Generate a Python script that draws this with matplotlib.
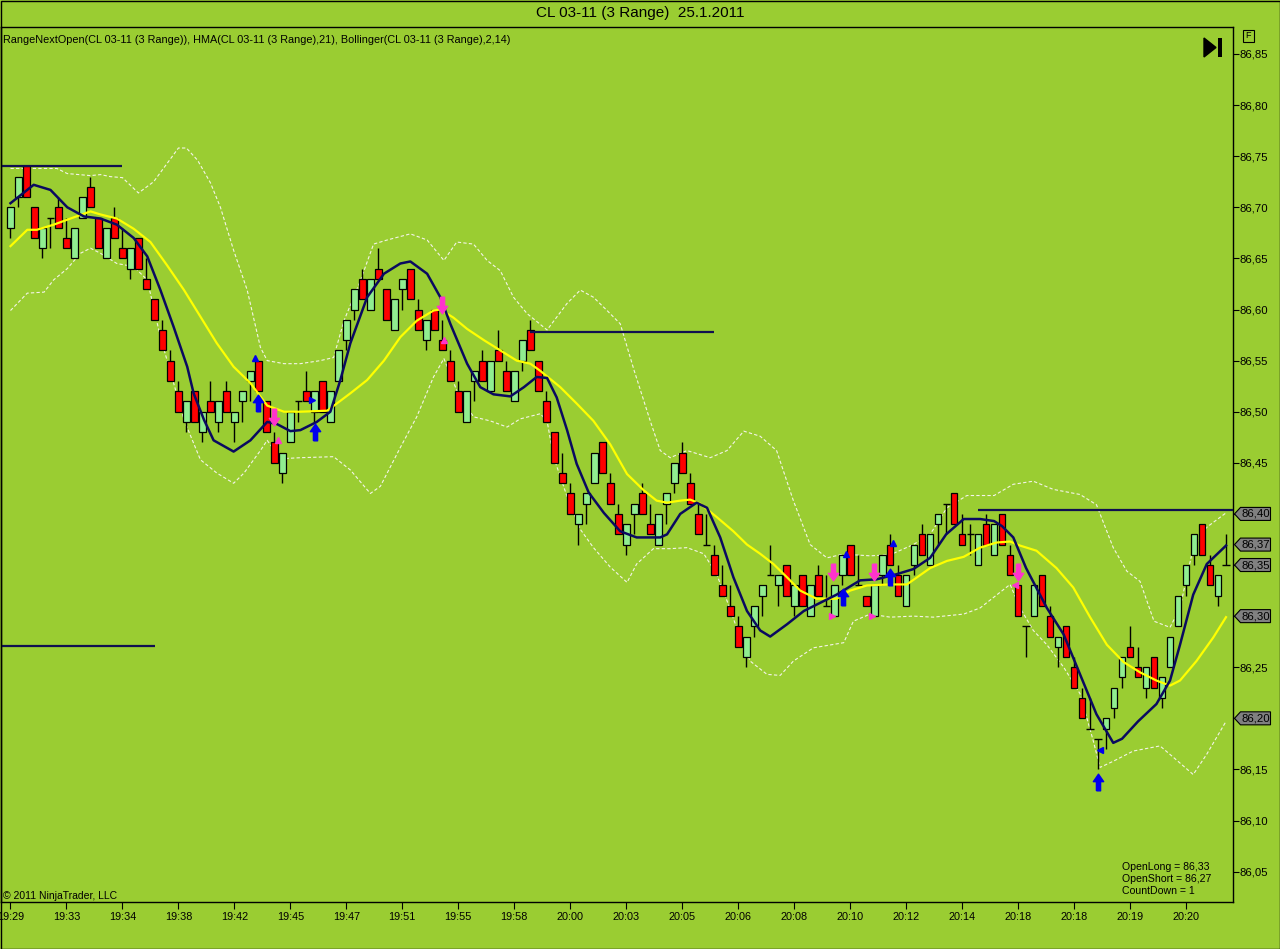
import matplotlib
matplotlib.use('Agg')
import numpy as np
import matplotlib.pyplot as plt
from matplotlib.patches import Polygon, Rectangle
from matplotlib.path import Path
import matplotlib.transforms as mtransforms

plt.rcParams['font.family'] = ['Liberation Sans', 'DejaVu Sans']

# 3-range bars (bar index 0..152)
opens = [86.68, 86.71, 86.74, 86.70, 86.66, 86.69, 86.70, 86.67, 86.65, 86.69,
         86.72, 86.69, 86.65, 86.69, 86.66, 86.64, 86.67, 86.63, 86.61, 86.58,
         86.55, 86.52, 86.49, 86.52, 86.48, 86.51, 86.49, 86.52, 86.49, 86.51,
         86.53, 86.55, 86.51, 86.47, 86.44, 86.47, 86.51, 86.52, 86.50, 86.53,
         86.49, 86.53, 86.57, 86.60, 86.63, 86.60, 86.64, 86.62, 86.58, 86.62,
         86.64, 86.60, 86.57, 86.60, 86.57, 86.55, 86.52, 86.49, 86.53, 86.55,
         86.52, 86.56, 86.54, 86.51, 86.55, 86.58, 86.55, 86.51, 86.48, 86.44,
         86.42, 86.39, 86.41, 86.43, 86.47, 86.43, 86.40, 86.37, 86.40, 86.42,
         86.39, 86.37, 86.41, 86.43, 86.46, 86.43, 86.40, 86.37, 86.36, 86.33,
         86.31, 86.29, 86.26, 86.29, 86.32, 86.34, 86.33, 86.35, 86.31, 86.34,
         86.30, 86.34, 86.31, 86.30, 86.34, 86.37, 86.33, 86.32, 86.30, 86.34,
         86.37, 86.34, 86.31, 86.35, 86.38, 86.35, 86.39, 86.41, 86.42, 86.38,
         86.38, 86.35, 86.39, 86.36, 86.40, 86.36, 86.33, 86.29, 86.30, 86.34,
         86.30, 86.27, 86.29, 86.25, 86.22, 86.19, 86.18, 86.19, 86.21, 86.24,
         86.27, 86.25, 86.23, 86.26, 86.22, 86.25, 86.29, 86.33, 86.36, 86.39,
         86.35, 86.32, 86.35]
highs = [86.70, 86.73, 86.74, 86.70, 86.68, 86.69, 86.71, 86.69, 86.68, 86.71,
         86.73, 86.69, 86.68, 86.70, 86.68, 86.66, 86.67, 86.65, 86.61, 86.59,
         86.56, 86.53, 86.51, 86.52, 86.50, 86.53, 86.51, 86.53, 86.50, 86.52,
         86.54, 86.55, 86.51, 86.48, 86.46, 86.50, 86.51, 86.54, 86.52, 86.53,
         86.52, 86.56, 86.59, 86.62, 86.64, 86.63, 86.66, 86.62, 86.61, 86.63,
         86.64, 86.61, 86.59, 86.60, 86.59, 86.56, 86.53, 86.52, 86.54, 86.56,
         86.55, 86.58, 86.55, 86.54, 86.57, 86.59, 86.55, 86.52, 86.48, 86.46,
         86.43, 86.40, 86.42, 86.46, 86.47, 86.44, 86.41, 86.39, 86.41, 86.43,
         86.41, 86.40, 86.42, 86.45, 86.47, 86.44, 86.41, 86.40, 86.37, 86.35,
         86.33, 86.30, 86.28, 86.31, 86.33, 86.37, 86.34, 86.35, 86.33, 86.34,
         86.33, 86.35, 86.34, 86.33, 86.36, 86.37, 86.36, 86.32, 86.33, 86.36,
         86.38, 86.35, 86.34, 86.37, 86.39, 86.38, 86.40, 86.41, 86.42, 86.40,
         86.39, 86.38, 86.40, 86.39, 86.40, 86.37, 86.33, 86.29, 86.33, 86.34,
         86.31, 86.28, 86.29, 86.26, 86.23, 86.22, 86.18, 86.20, 86.23, 86.26,
         86.29, 86.27, 86.25, 86.26, 86.24, 86.28, 86.32, 86.35, 86.38, 86.39,
         86.36, 86.34, 86.38]
lows = [86.67, 86.70, 86.71, 86.67, 86.65, 86.66, 86.68, 86.66, 86.65, 86.69,
        86.70, 86.66, 86.65, 86.67, 86.65, 86.63, 86.64, 86.62, 86.59, 86.56,
        86.53, 86.50, 86.48, 86.49, 86.47, 86.50, 86.48, 86.50, 86.47, 86.49,
        86.51, 86.52, 86.48, 86.45, 86.43, 86.47, 86.49, 86.51, 86.49, 86.50,
        86.49, 86.53, 86.56, 86.59, 86.61, 86.60, 86.63, 86.59, 86.58, 86.60,
        86.61, 86.58, 86.56, 86.58, 86.56, 86.53, 86.50, 86.49, 86.51, 86.53,
        86.52, 86.55, 86.52, 86.51, 86.54, 86.56, 86.52, 86.49, 86.45, 86.43,
        86.40, 86.37, 86.39, 86.43, 86.44, 86.41, 86.38, 86.36, 86.38, 86.40,
        86.38, 86.37, 86.39, 86.42, 86.44, 86.41, 86.38, 86.37, 86.34, 86.32,
        86.30, 86.27, 86.25, 86.28, 86.30, 86.34, 86.31, 86.32, 86.30, 86.31,
        86.30, 86.32, 86.31, 86.30, 86.33, 86.34, 86.33, 86.31, 86.30, 86.33,
        86.35, 86.32, 86.31, 86.34, 86.36, 86.35, 86.37, 86.38, 86.39, 86.37,
        86.36, 86.35, 86.37, 86.36, 86.37, 86.34, 86.30, 86.26, 86.30, 86.31,
        86.28, 86.25, 86.26, 86.23, 86.20, 86.19, 86.15, 86.17, 86.20, 86.23,
        86.26, 86.24, 86.22, 86.23, 86.21, 86.25, 86.29, 86.32, 86.35, 86.36,
        86.33, 86.31, 86.35]
closes = [86.70, 86.73, 86.71, 86.67, 86.68, 86.69, 86.68, 86.66, 86.68, 86.71,
          86.70, 86.66, 86.68, 86.67, 86.65, 86.66, 86.64, 86.62, 86.59, 86.56,
          86.53, 86.50, 86.51, 86.49, 86.50, 86.50, 86.51, 86.50, 86.50, 86.52,
          86.54, 86.52, 86.48, 86.45, 86.46, 86.50, 86.51, 86.51, 86.52, 86.50,
          86.52, 86.56, 86.59, 86.62, 86.61, 86.63, 86.63, 86.59, 86.61, 86.63,
          86.61, 86.58, 86.59, 86.58, 86.56, 86.53, 86.50, 86.52, 86.54, 86.53,
          86.55, 86.55, 86.52, 86.54, 86.57, 86.56, 86.52, 86.49, 86.45, 86.43,
          86.40, 86.40, 86.42, 86.46, 86.44, 86.41, 86.38, 86.39, 86.41, 86.40,
          86.38, 86.40, 86.42, 86.45, 86.44, 86.41, 86.38, 86.37, 86.34, 86.32,
          86.30, 86.27, 86.28, 86.31, 86.33, 86.34, 86.34, 86.32, 86.33, 86.31,
          86.33, 86.32, 86.31, 86.33, 86.36, 86.34, 86.33, 86.31, 86.33, 86.36,
          86.35, 86.32, 86.34, 86.37, 86.36, 86.38, 86.40, 86.41, 86.39, 86.37,
          86.38, 86.38, 86.37, 86.39, 86.37, 86.34, 86.30, 86.29, 86.33, 86.31,
          86.28, 86.28, 86.26, 86.23, 86.20, 86.19, 86.18, 86.20, 86.23, 86.26,
          86.26, 86.24, 86.25, 86.23, 86.24, 86.28, 86.32, 86.35, 86.38, 86.36,
          86.33, 86.34, 86.35]

# HMA(21) - navy line, read at bar positions
hma_x = [0, 2.9, 5.0, 7.1, 9.2, 11.25, 13.3, 15.4, 17.1, 18.75, 20.4, 22.1, 22.9,
         24.2, 25.4, 27.9, 30.0, 32.1, 33.3, 35.0, 36.25, 38.3, 40.0, 41.25, 42.5,
         44.6, 46.7, 48.75, 50.0, 52.1, 53.75, 55.0, 57.1, 58.75, 60.4, 62.5, 64.2,
         65.8, 67.1, 68.3, 69.6, 70.8, 72.3, 74.2, 76.25, 78.3, 81.25, 82.1, 83.75,
         85.8, 87.1, 88.75, 90.4, 92.1, 93.75, 95.0, 97.1, 99.2, 101.25, 103.3,
         105.4, 106.25, 108.3, 110.8, 112.9, 115.0, 117.0, 119.2, 121.25, 123.0,
         124.0, 125.4, 127.0, 129.6, 131.7, 133.75, 135.8, 137.9, 139.0, 141.0,
         143.3, 145.0, 146.25, 147.9, 149.6, 152.0]
hma_y = [86.704, 86.722, 86.717, 86.700, 86.691, 86.689, 86.683, 86.670, 86.652,
         86.619, 86.583, 86.544, 86.518, 86.492, 86.472, 86.461, 86.472, 86.490,
         86.488, 86.481, 86.482, 86.490, 86.500, 86.531, 86.567, 86.612, 86.635,
         86.645, 86.647, 86.635, 86.612, 86.586, 86.547, 86.524, 86.517, 86.515,
         86.524, 86.534, 86.533, 86.514, 86.482, 86.449, 86.421, 86.401, 86.383,
         86.377, 86.377, 86.380, 86.400, 86.411, 86.406, 86.377, 86.338, 86.305,
         86.286, 86.280, 86.292, 86.305, 86.313, 86.321, 86.331, 86.335, 86.336,
         86.341, 86.346, 86.357, 86.380, 86.395, 86.395, 86.393, 86.388, 86.377,
         86.347, 86.308, 86.282, 86.243, 86.204, 86.176, 86.180, 86.197, 86.214,
         86.237, 86.272, 86.321, 86.351, 86.369]

# Bollinger middle (yellow)
mid_x = [0, 2.1, 3.3, 5.4, 7.5, 10.0, 11.25, 13.3, 15.4, 17.5, 19.6, 21.7, 23.75,
         25.8, 27.9, 30.0, 32.1, 34.2, 36.25, 39.6, 40.8, 42.5, 44.6, 46.7, 48.75,
         50.8, 52.9, 53.75, 55.4, 57.1, 59.2, 61.25, 63.3, 65.0, 66.25, 68.75,
         70.8, 72.9, 75.0, 77.1, 79.2, 80.8, 82.1, 83.75, 85.0, 86.25, 88.3, 90.4,
         92.1, 93.75, 95.4, 97.1, 98.75, 100.8, 103.3, 105.0, 107.1, 110.0, 112.1,
         115.0, 117.1, 119.2, 121.25, 123.3, 125.0, 126.25, 128.3, 130.8, 132.9,
         135.0, 137.1, 139.2, 141.25, 143.3, 145.0, 146.25, 148.3, 150.4, 152.0]
mid_y = [86.662, 86.678, 86.678, 86.683, 86.689, 86.696, 86.693, 86.689, 86.679,
         86.666, 86.643, 86.619, 86.593, 86.567, 86.544, 86.528, 86.506, 86.500,
         86.500, 86.501, 86.508, 86.518, 86.531, 86.550, 86.573, 86.589, 86.599,
         86.600, 86.592, 86.581, 86.570, 86.560, 86.550, 86.547, 86.540, 86.524,
         86.508, 86.491, 86.468, 86.439, 86.423, 86.413, 86.411, 86.413, 86.414,
         86.410, 86.397, 86.383, 86.370, 86.361, 86.351, 86.338, 86.325, 86.317,
         86.317, 86.325, 86.330, 86.331, 86.331, 86.347, 86.354, 86.358, 86.367,
         86.372, 86.373, 86.369, 86.364, 86.347, 86.328, 86.299, 86.272, 86.255,
         86.245, 86.237, 86.232, 86.237, 86.256, 86.279, 86.299]

# Bollinger upper band (white dashed)
up_x = [0, 1.7, 5.8, 7.1, 10.0, 11.25, 12.5, 14.0, 16.0, 17.9, 21.0, 22.0, 23.4,
        25.0, 26.25, 27.9, 29.6, 31.25, 32.1, 34.2, 36.25, 38.75, 40.4, 41.7,
        43.75, 45.4, 47.1, 50.0, 52.1, 54.2, 55.8, 57.9, 59.6, 61.25, 62.9, 64.6,
        67.1, 69.6, 71.25, 72.9, 74.6, 76.25, 78.0, 80.0, 81.25, 82.5, 84.6, 87.5,
        89.6, 91.7, 93.75, 95.8, 97.9, 100.0, 102.1, 103.75, 105.4, 107.5, 110.0,
        112.9, 115.0, 117.1, 119.6, 123.0, 125.4, 127.9, 130.4, 133.75, 135.8,
        137.9, 139.6, 141.25, 143.0, 145.0, 146.25, 147.9, 149.6, 152.0]
up_y = [86.738, 86.738, 86.738, 86.733, 86.731, 86.732, 86.730, 86.729, 86.714,
        86.725, 86.758, 86.758, 86.746, 86.724, 86.700, 86.658, 86.619, 86.563,
        86.550, 86.547, 86.547, 86.550, 86.553, 86.589, 86.628, 86.664, 86.668,
        86.674, 86.668, 86.648, 86.666, 86.664, 86.648, 86.638, 86.612, 86.596,
        86.580, 86.606, 86.619, 86.612, 86.599, 86.586, 86.540, 86.491, 86.462,
        86.455, 86.462, 86.455, 86.462, 86.481, 86.476, 86.462, 86.413, 86.370,
        86.357, 86.360, 86.360, 86.359, 86.360, 86.370, 86.380, 86.406, 86.418,
        86.418, 86.429, 86.432, 86.424, 86.419, 86.409, 86.367, 86.344, 86.334,
        86.295, 86.289, 86.308, 86.367, 86.387, 86.401]

# Bollinger lower band (white dashed)
lo_x = [0, 2.1, 4.2, 5.4, 7.1, 8.75, 10.0, 11.25, 13.3, 15.4, 17.1, 18.75, 20.4,
        21.7, 23.75, 25.8, 27.9, 29.2, 31.25, 32.1, 33.75, 36.25, 40.4, 42.5, 45.0,
        46.25, 48.75, 50.8, 52.9, 54.2, 55.8, 57.9, 60.0, 62.1, 63.75, 66.25, 67.1,
        67.9, 69.6, 71.25, 72.9, 75.0, 77.1, 78.3, 80.4, 82.5, 84.6, 86.7, 88.3,
        89.6, 91.25, 92.5, 94.6, 96.25, 97.9, 100.4, 104.2, 105.4, 107.5, 110.0,
        112.9, 115.4, 119.2, 121.25, 125.0, 126.25, 127.9, 129.6, 131.7, 133.75,
        135.4, 136.25, 137.9, 140.4, 143.75, 145.4, 147.9, 149.6, 152.0]
lo_y = [86.599, 86.616, 86.617, 86.629, 86.640, 86.655, 86.660, 86.655, 86.645,
        86.642, 86.629, 86.573, 86.528, 86.492, 86.453, 86.440, 86.430, 86.440,
        86.462, 86.472, 86.454, 86.455, 86.456, 86.443, 86.420, 86.427, 86.465,
        86.495, 86.534, 86.552, 86.521, 86.495, 86.491, 86.485, 86.493, 86.498,
        86.491, 86.456, 86.417, 86.385, 86.367, 86.348, 86.333, 86.351, 86.366,
        86.366, 86.367, 86.361, 86.341, 86.315, 86.279, 86.256, 86.243, 86.242,
        86.256, 86.269, 86.274, 86.295, 86.302, 86.299, 86.300, 86.299, 86.302,
        86.308, 86.331, 86.308, 86.286, 86.272, 86.250, 86.224, 86.178, 86.152,
        86.158, 86.168, 86.173, 86.162, 86.145, 86.165, 86.197]

# RangeNextOpen level lines: price, first bar, last bar
level_price = [86.740, 86.578, 86.271, 86.404]
level_from = [-1.25, 65.0, -1.25, 121.0]
level_to = [14.0, 88.0, 18.1, 152.9]

# signal markers (bar, price)
long_arrow_x = [31.0, 38.1, 104.1, 110.0, 136.0]
long_arrow_y = [86.509, 86.480, 86.319, 86.338, 86.138]
short_arrow_x = [33.0, 54.0, 102.9, 108.0, 126.0]
short_arrow_y = [86.495, 86.604, 86.343, 86.343, 86.343]
blue_tri_x = [30.6, 37.75, 104.5, 110.4, 136.25]
blue_tri_y = [86.553, 86.511, 86.361, 86.372, 86.169]
blue_tri_m = ['^', '>', '^', '^', '<']
pink_tri_x = [33.4, 54.25, 102.75, 107.75, 125.6]
pink_tri_y = [86.472, 86.570, 86.300, 86.300, 86.330]
pink_tri_m = ['^', '^', '>', '>', '<']

time_ticks = [0, 7, 14, 21, 28, 35, 42, 49, 56, 63, 70, 77, 84, 91, 98, 105,
              112, 119, 126, 133, 140, 147]
time_labels = ['19:29', '19:33', '19:34', '19:38', '19:42', '19:45', '19:47',
               '19:51', '19:55', '19:58', '20:00', '20:03', '20:05', '20:06',
               '20:08', '20:10', '20:12', '20:14', '20:18', '20:18', '20:19', '20:20']
price_ticks = [86.05, 86.10, 86.15, 86.20, 86.25, 86.30, 86.35, 86.40, 86.45,
               86.50, 86.55, 86.60, 86.65, 86.70, 86.75, 86.80, 86.85]
marker_prices = [86.40, 86.37, 86.35, 86.30, 86.20]

BG = '#9acd32'
W, H = 1280, 949

fig = plt.figure(figsize=(12.8, 9.49), dpi=100, facecolor=BG)
ax = fig.add_axes([0.5 / W, 1 - 902 / H, 1232.5 / W, 875 / H])
ax.set_facecolor(BG)
ax.set_xlim(-1.25, 152.875)
ax.set_ylim(86.0203, 86.8764)

# candles
x = np.arange(len(opens))
o = np.array(opens)
c = np.array(closes)
hi = np.array(highs)
lo = np.array(lows)
ax.vlines(x, lo, hi, color='black', lw=1.0, zorder=3)
up = c > o
dn = c < o
eq = c == o
ax.bar(x[up], (c - o)[up], bottom=o[up], width=0.84, color='#90ee90',
       edgecolor='black', linewidth=0.9, zorder=4)
ax.bar(x[dn], (o - c)[dn], bottom=c[dn], width=0.84, color='#ff0000',
       edgecolor='black', linewidth=0.9, zorder=4)
ax.hlines(o[eq], x[eq] - 0.45, x[eq] + 0.45, color='black', lw=1.0, zorder=4)

# indicators
ax.plot(up_x, up_y, color='#f4f4e8', lw=0.8, ls=(0, (3, 2)), zorder=2)
ax.plot(lo_x, lo_y, color='#f4f4e8', lw=0.8, ls=(0, (3, 2)), zorder=2)
ax.plot(mid_x, mid_y, color='#ffff00', lw=1.6, zorder=5)
ax.plot(hma_x, hma_y, color='#0a0a60', lw=1.8, zorder=6)

for p, a, b in zip(level_price, level_from, level_to):
    ax.hlines(p, a, b, color='#101050', lw=1.6, zorder=6)

# signal arrows
arrow_up = Path([(-0.25, -1), (0.25, -1), (0.25, 0.1), (0.62, 0.1), (0, 1),
                 (-0.62, 0.1), (-0.25, 0.1), (-0.25, -1)])
arrow_dn = Path([(vx, -vy) for vx, vy in arrow_up.vertices])
ax.plot(long_arrow_x, long_arrow_y, ls='none', marker=arrow_up, ms=12,
        color='#0000ee', mec='#0000ee', zorder=7)
ax.plot(short_arrow_x, short_arrow_y, ls='none', marker=arrow_dn, ms=12,
        color='#ff33cc', mec='#ff33cc', zorder=7)
for tx, ty, tm in zip(blue_tri_x, blue_tri_y, blue_tri_m):
    ax.plot(tx, ty, marker=tm, ms=5, color='#0000ee', zorder=7)
for tx, ty, tm in zip(pink_tri_x, pink_tri_y, pink_tri_m):
    ax.plot(tx, ty, marker=tm, ms=5, color='#ff33cc', zorder=7)

# axes styling
for s in ax.spines.values():
    s.set_color('black')
    s.set_linewidth(1.0)
ax.yaxis.tick_right()
ax.set_yticks(price_ticks)
ax.set_yticklabels(['' if round(p, 2) in marker_prices else f'{p:.2f}'.replace('.', ',')
                    for p in price_ticks])
ax.tick_params(axis='y', direction='out', length=4, width=0.8, pad=1,
               labelsize=8.2, colors='black')
ax.set_xticks(time_ticks)
ax.set_xticklabels(time_labels)
ax.tick_params(axis='x', direction='out', length=5, width=0.8, pad=2,
               labelsize=7.8, colors='black')

# price markers on the right axis
yl = ax.get_ylim()
px_per_unit = 875 / (yl[1] - yl[0])
trans = mtransforms.blended_transform_factory(ax.transAxes, ax.transData)
ax_w = 1232.5
for p in marker_prices:
    hh = 6.5 / px_per_unit
    x0 = 1 + 1.5 / ax_w
    x1 = 1 + 7.5 / ax_w
    x2 = 1 + 37.5 / ax_w
    poly = Polygon([(x0, p), (x1, p + hh), (x2, p + hh), (x2, p - hh), (x1, p - hh)],
                   closed=True, transform=trans, facecolor='#808080',
                   edgecolor='black', lw=0.8, clip_on=False, zorder=10)
    ax.add_patch(poly)
    ax.text(1 + 8.5 / ax_w, p, f'{p:.2f}'.replace('.', ','), transform=trans,
            fontsize=8.2, va='center', ha='left', color='black', zorder=11,
            clip_on=False)

# texts
fig.text(640 / W, 1 - 13 / H, 'CL 03-11 (3 Range)  25.1.2011', ha='center',
         va='center', fontsize=11)
fig.text(3 / W, 1 - 40 / H,
         'RangeNextOpen(CL 03-11 (3 Range)), HMA(CL 03-11 (3 Range),21), '
         'Bollinger(CL 03-11 (3 Range),2,14)', ha='left', va='center', fontsize=7.8)
fig.text(3 / W, 1 - 896 / H, '\u00a9 2011 NinjaTrader, LLC', ha='left',
         va='center', fontsize=7.5)
for i, line in enumerate(['OpenLong = 86,33', 'OpenShort = 86,27', 'CountDown = 1']):
    fig.text(1122 / W, 1 - (867 + 12 * i) / H, line, ha='left', va='center',
             fontsize=7.6)

# play-to-end icon and F box
def fp(px, py):
    return (px / W, 1 - py / H)

fig.patches.append(Polygon([fp(1204, 38), fp(1204, 57), fp(1216, 47.5)], closed=True,
                           transform=fig.transFigure, facecolor='black',
                           edgecolor='black', zorder=12))
fig.patches.append(Rectangle(fp(1218, 57), 4 / W, 19 / H, transform=fig.transFigure,
                             facecolor='black', edgecolor='none', zorder=12))
fig.patches.append(Rectangle(fp(1243, 42), 11 / W, 12 / H, transform=fig.transFigure,
                             facecolor='none', edgecolor='black', lw=0.8, zorder=12))
fig.text(1248.5 / W, 1 - 36 / H, 'F', ha='center', va='center', fontsize=6.5)

# outer frame
fig.patches.append(Rectangle((0.5 / W, 0.5 / H), 1 - 1 / W, 1 - 1 / H,
                             transform=fig.transFigure, facecolor='none',
                             edgecolor='black', lw=1.0))

fig.savefig('out.png', dpi=100, facecolor=BG)
